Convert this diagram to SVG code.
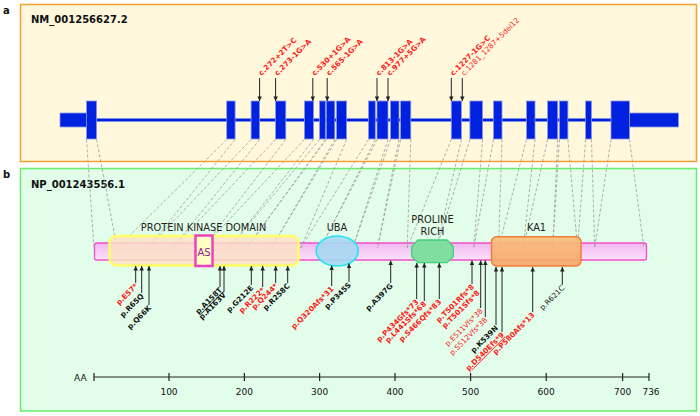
<svg xmlns="http://www.w3.org/2000/svg" width="700" height="416" viewBox="0 0 700 416">
<style>
.lbl{font-family:"DejaVu Sans",Verdana,sans-serif;font-weight:bold;font-size:10px;fill:#111}
.ttl{font-family:"DejaVu Sans",Verdana,sans-serif;font-weight:bold;font-size:10px;fill:#111}
.dom{font-family:"DejaVu Sans",Verdana,sans-serif;font-size:9.8px;fill:#222;text-anchor:middle}
.ax{font-family:"DejaVu Sans",Verdana,sans-serif;font-size:9px;fill:#111;text-anchor:middle}
.mr{font-family:"DejaVu Sans",Verdana,sans-serif;font-weight:bold;font-size:7.3px;fill:#ff1a1a}
.mk{font-family:"DejaVu Sans",Verdana,sans-serif;font-weight:bold;font-size:7.3px;fill:#111}
.nr{font-family:"DejaVu Sans",Verdana,sans-serif;font-size:7.3px;fill:#ff1a1a}
.nk{font-family:"DejaVu Sans",Verdana,sans-serif;font-size:7.3px;fill:#222}
.end{text-anchor:end}
.ex{fill:#0022e0;stroke:#8a96e6;stroke-width:0.8}
.arr line{stroke:#222;stroke-width:1;marker-end:url(#ah)}
.cn{stroke:#9a9a9a;stroke-width:0.8;stroke-dasharray:3,2;fill:none}
</style>
<defs>
<marker id="ah" viewBox="0 0 6 6" refX="6" refY="3" markerWidth="5" markerHeight="4.5" orient="auto" markerUnits="userSpaceOnUse"><path d="M0,0 L6,3 L0,6 z" fill="#222"/></marker>
<linearGradient id="gbar" x1="0" y1="0" x2="0" y2="1"><stop offset="0" stop-color="#f2b6f0"/><stop offset="1" stop-color="#fae2fa"/></linearGradient>
<linearGradient id="gka" x1="0" y1="0" x2="0" y2="1"><stop offset="0" stop-color="#f9c07a"/><stop offset="1" stop-color="#f7a462"/></linearGradient>
</defs>
<g id="panel-a">
<rect x="20.5" y="4.5" width="676" height="157" fill="#fff8dc" stroke="#f5a030" stroke-width="1.5"/>
<text class="lbl" x="3" y="14">a</text>
<text class="ttl" x="31" y="23">NM_001256627.2</text>
</g>
<g id="panel-b">
<rect x="20.5" y="168.5" width="676" height="242.5" fill="#e2fde9" stroke="#66ee66" stroke-width="1.5"/>
<text class="lbl" x="3" y="178">b</text>
<text class="ttl" x="31" y="188">NP_001243556.1</text>
</g>
<g id="gene">
<rect x="60" y="113" width="27" height="14" class="ex"/>
<rect x="629.5" y="113" width="49" height="14" class="ex"/>
<rect x="86" y="118.5" width="544" height="3" fill="#0022e0"/>
<rect x="86.5" y="101" width="10.1" height="38" class="ex"/>
<rect x="226.7" y="101" width="8.4" height="38" class="ex"/>
<rect x="251.1" y="101" width="8.5" height="38" class="ex"/>
<rect x="275.6" y="101" width="10.2" height="38" class="ex"/>
<rect x="304.4" y="101" width="9.2" height="38" class="ex"/>
<rect x="319.6" y="101" width="5.9" height="38" class="ex"/>
<rect x="326.3" y="101" width="8.5" height="38" class="ex"/>
<rect x="336.5" y="101" width="10.1" height="38" class="ex"/>
<rect x="368.5" y="101" width="6.8" height="38" class="ex"/>
<rect x="377" y="101" width="11" height="38" class="ex"/>
<rect x="390.5" y="101" width="8.5" height="38" class="ex"/>
<rect x="400.6" y="101" width="10.2" height="38" class="ex"/>
<rect x="451.3" y="101" width="10.1" height="38" class="ex"/>
<rect x="469.9" y="101" width="12.7" height="38" class="ex"/>
<rect x="493.5" y="101" width="8.5" height="38" class="ex"/>
<rect x="526.5" y="101" width="8.5" height="38" class="ex"/>
<rect x="547.6" y="101" width="10.1" height="38" class="ex"/>
<rect x="559.4" y="101" width="8.5" height="38" class="ex"/>
<rect x="585.6" y="101" width="5.9" height="38" class="ex"/>
<rect x="611" y="101" width="18.5" height="38" class="ex"/>
</g>
<g id="protein-bar">
<rect x="94.5" y="243" width="552" height="17" rx="2" fill="url(#gbar)" stroke="#f050c8" stroke-width="1.3"/>
</g>
<g id="connectors">
<path class="cn" d="M86.5,139.5L94,248M96.6,139.5L117,248M226.7,139.5L117,248M235.1,139.5L148,248M251.1,139.5L148,248M259.6,139.5L172.7,248M275.6,139.5L172.7,248M285.8,139.5L202.5,248M304.4,139.5L202.5,248M313.6,139.5L229.3,248M319.6,139.5L229.3,248M325.5,139.5L246.5,248M326.3,139.5L246.5,248M334.8,139.5L271.3,248M336.5,139.5L271.3,248M346.6,139.5L300.7,248M368.5,139.5L300.7,248M375.3,139.5L320.6,248M377,139.5L320.6,248M388,139.5L352.7,248M390.5,139.5L352.7,248M399,139.5L377.4,248M400.6,139.5L377.4,248M410.8,139.5L407.2,248M451.3,139.5L407.2,248M461.4,139.5L436.6,248M469.9,139.5L436.6,248M482.6,139.5L473.7,248M493.5,139.5L473.7,248M502,139.5L498.5,248M526.5,139.5L498.5,248M535,139.5L523.2,248M547.6,139.5L523.2,248M557.7,139.5L552.7,248M559.4,139.5L552.7,248M567.9,139.5L577.5,248M585.6,139.5L577.5,248M591.5,139.5L594.7,248M611,139.5L594.7,248M629.5,139.5L644,248"/>
</g>
<g id="kinase-domain">
<rect x="109.5" y="236" width="189" height="29.5" rx="7" fill="#fde2c4" fill-opacity="0.82" stroke="#ffff66" stroke-width="2.5"/>
<text class="dom" x="203.5" y="231">PROTEIN KINASE DOMAIN</text>
</g>
<g id="as-box">
<rect x="195.5" y="235.5" width="17" height="30.5" fill="#ffffc4" stroke="#f040c0" stroke-width="2.5"/>
<text x="204" y="256" font-family="DejaVu Sans,Verdana,sans-serif" font-size="10" fill="#8b1a8b" text-anchor="middle">AS</text>
</g>
<g id="uba">
<ellipse cx="337.2" cy="251" rx="21" ry="15" fill="#a6d8f2" fill-opacity="0.9" stroke="#22e4f0" stroke-width="1.5"/>
<text class="dom" x="337" y="231">UBA</text>
</g>
<g id="proline-rich">
<polygon points="418,240 447,240 453.3,246.5 453.3,256.5 447,262.7 418,262.7 411.7,256.5 411.7,246.5" fill="#80dea0" stroke="#40d27e" stroke-width="1.3"/>
<text class="dom" x="432.5" y="223">PROLINE</text>
<text class="dom" x="432.5" y="235">RICH</text>
</g>
<g id="ka1">
<rect x="491.5" y="236.7" width="89.5" height="29.3" rx="5" fill="url(#gka)" fill-opacity="0.9" stroke="#f57a3a" stroke-width="1.5"/>
<text class="dom" x="536.5" y="231">KA1</text>
</g>
<g id="dna-variants">
<g class="arr">
<line x1="259.6" y1="78" x2="259.6" y2="101"/>
<line x1="275.6" y1="78" x2="275.6" y2="101"/>
<line x1="312.8" y1="78" x2="312.8" y2="101"/>
<line x1="327.2" y1="78" x2="327.2" y2="101"/>
<line x1="377" y1="78" x2="377" y2="101"/>
<line x1="388" y1="78" x2="388" y2="101"/>
<line x1="451.3" y1="78" x2="451.3" y2="101"/>
<line x1="462.3" y1="78" x2="462.3" y2="101"/>
</g>
<text class="mr" transform="translate(261.6,76) rotate(-45)">c.272+2T&gt;C</text>
<text class="mr" transform="translate(277.6,76) rotate(-45)">c.273-1G&gt;A</text>
<text class="mr" transform="translate(314.8,76) rotate(-45)">c.530+1G&gt;A</text>
<text class="mr" transform="translate(329.2,76) rotate(-45)">c.565-1G&gt;A</text>
<text class="mr" transform="translate(379,76) rotate(-45)">c.813-1G&gt;A</text>
<text class="mr" transform="translate(390,76) rotate(-45)">c.977+5G&gt;A</text>
<text class="mr" transform="translate(453.3,76) rotate(-45)">c.1227-1G&gt;C</text>
<text class="nr" transform="translate(464.3,76) rotate(-45)">c.1281_1287+5del12</text>
</g>
<g id="protein-variants">
<g class="arr">
<line x1="135.7" y1="283" x2="135.7" y2="266"/>
<line x1="141.7" y1="293" x2="141.7" y2="266"/>
<line x1="149" y1="305" x2="149" y2="266"/>
<line x1="220" y1="287" x2="220" y2="266"/>
<line x1="224" y1="292" x2="224" y2="266"/>
<line x1="251.3" y1="285" x2="251.3" y2="266"/>
<line x1="262.7" y1="287" x2="262.7" y2="266"/>
<line x1="275.7" y1="283" x2="275.7" y2="266"/>
<line x1="287.7" y1="283" x2="287.7" y2="266"/>
<line x1="331.7" y1="286" x2="331.7" y2="265.5"/>
<line x1="349" y1="282" x2="349" y2="263.5"/>
<line x1="390.7" y1="283" x2="390.7" y2="260.5"/>
<line x1="416.7" y1="299" x2="416.7" y2="263"/>
<line x1="424.3" y1="301" x2="424.3" y2="263"/>
<line x1="439.3" y1="299" x2="439.3" y2="263"/>
<line x1="472" y1="284" x2="472" y2="260.5"/>
<line x1="480.7" y1="308" x2="480.7" y2="260.5"/>
<line x1="485.3" y1="317" x2="485.3" y2="260.5"/>
<line x1="496" y1="325" x2="496" y2="267"/>
<line x1="502" y1="332" x2="502" y2="267"/>
<line x1="532.7" y1="312" x2="532.7" y2="267"/>
<line x1="562.3" y1="285" x2="562.3" y2="267"/>
</g>
<text class="mr end" transform="translate(138.2,286.5) rotate(-45)">p.E57*</text>
<text class="mk end" transform="translate(144.2,296.5) rotate(-45)">p.R65Q</text>
<text class="mk end" transform="translate(151.5,308.5) rotate(-45)">p.Q66K</text>
<text class="mk end" transform="translate(222.5,290.5) rotate(-45)" text-decoration="underline">p.A158T</text>
<text class="mk end" transform="translate(226.5,295.5) rotate(-45)">p.A163V</text>
<text class="mk end" transform="translate(253.8,288.5) rotate(-45)">p.G212E</text>
<text class="mr end" transform="translate(265.2,290.5) rotate(-45)">p.R222*</text>
<text class="mr end" transform="translate(278.2,286.5) rotate(-45)">p.Q244*</text>
<text class="mk end" transform="translate(290.2,286.5) rotate(-45)">p.R258C</text>
<text class="mr end" transform="translate(334.2,289.5) rotate(-45)">p.Q320Afs*31</text>
<text class="mk end" transform="translate(351.5,285.5) rotate(-45)">p.P345S</text>
<text class="mk end" transform="translate(393.2,286.5) rotate(-45)">p.A397G</text>
<text class="mr end" transform="translate(419.2,302.5) rotate(-45)">p.P434Gfs*73</text>
<text class="mr end" transform="translate(426.8,304.5) rotate(-45)">p.L441Sfs*68</text>
<text class="mr end" transform="translate(441.8,302.5) rotate(-45)">p.S466Qfs*83</text>
<text class="mr end" transform="translate(474.5,287.5) rotate(-45)">p.T501Rfs*8</text>
<text class="mr end" transform="translate(480.2,293.5) rotate(-45)">p.T501Sfs*8</text>
<text class="nr end" transform="translate(483.2,311.5) rotate(-45)">p.E511Vfs*38</text>
<text class="nr end" transform="translate(487.8,320.5) rotate(-45)">p.S512Vfs*38</text>
<text class="mk end" transform="translate(498.5,328.5) rotate(-45)">p.K539N</text>
<text class="mr end" transform="translate(504.5,335.5) rotate(-45)" text-decoration="underline">p.D540Efs*9</text>
<text class="mr end" transform="translate(535.2,315.5) rotate(-45)">p.P580Afs*13</text>
<text class="nk end" transform="translate(564.8,288.5) rotate(-45)">p.R621C</text>
</g>
<g id="axis">
<path d="M94,377H649M94,373V381M169,373V381M244.4,373V381M319.6,373V381M395,373V381M470.6,373V381M546.2,373V381M622.6,373V381M649,373V381" stroke="#222" stroke-width="1.2" fill="none"/>
<text x="74" y="381" font-family="DejaVu Sans,Verdana,sans-serif" font-size="9" fill="#111">AA</text>
<text class="ax" x="169" y="395">100</text>
<text class="ax" x="244.4" y="395">200</text>
<text class="ax" x="319.6" y="395">300</text>
<text class="ax" x="395" y="395">400</text>
<text class="ax" x="470.6" y="395">500</text>
<text class="ax" x="546.2" y="395">600</text>
<text class="ax" x="622.6" y="395">700</text>
<text class="ax" x="651" y="395">736</text>
</g>
</svg>
